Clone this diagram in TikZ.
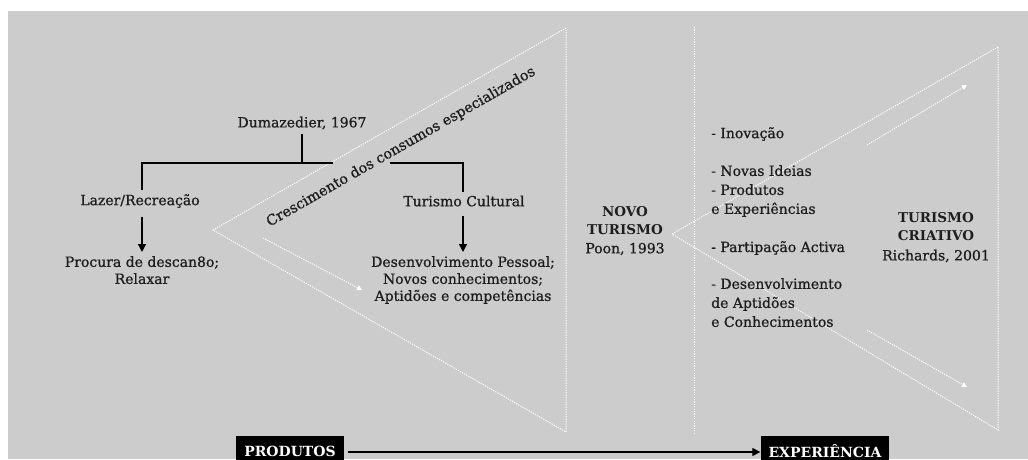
\documentclass[tikz,border=0pt]{standalone}
\usepackage{fontspec}
\setmainfont{DejaVu Serif}
\newfontfamily\semi{DejaVu Serif}[FakeBold=0.9]
\usetikzlibrary{arrows.meta}
\definecolor{panel}{RGB}{204,204,204}
\definecolor{ink}{RGB}{30,30,30}
\tikzset{
  lbl/.style={font=\semi\fontsize{14}{17}\selectfont, text=ink, inner sep=0pt, align=center},
  lbll/.style={lbl, font=\semi\fontsize{14}{19}\selectfont, align=left},
  ttl/.style={lbl, font=\fontsize{13.5}{18}\selectfont\bfseries},
  tree/.style={draw=black, line width=1.4pt},
  drop/.style={tree, -{Triangle[width=8pt,length=8pt]}},
  guide/.style={draw=white, line width=1pt, dash pattern=on 1.2pt off 1.2pt},
  flow/.style={guide, -{Triangle[width=5pt,length=5pt,fill=white]}},
  tag/.style={fill=black, text=white, font=\fontsize{14}{16}\selectfont\bfseries,
    minimum height=30pt, inner xsep=8pt, anchor=north},
}
\begin{document}
\begin{tikzpicture}[x=1pt,y=-1pt]
\useasboundingbox[fill=white] (0,0) rectangle (1028,459);
\fill[panel] (8,11) rectangle (1028,459);

% left triangle: specialised consumption widening
\coordinate (la) at (213,230);
\coordinate (lt) at (566,28);
\coordinate (lb) at (566,432);
\draw[guide] (lt) -- (la) -- (lb) -- cycle;
\coordinate (lfs) at (263,238);
\coordinate (lfe) at (362,290);
\draw[flow] (lfs) -- (lfe);

% separator
\coordinate (st) at (694,27);
\coordinate (sb) at (694,433);
\draw[guide] (st) -- (sb);

% right triangle: creative tourism
\coordinate (ra) at (672,234);
\coordinate (rt) at (998,47);
\coordinate (rb) at (998,430);
\draw[guide] (rt) -- (ra) -- (rb) -- cycle;
\coordinate (rus) at (867,145);
\coordinate (rue) at (967,85);
\coordinate (rls) at (867,330);
\coordinate (rle) at (967,387);
\draw[flow] (rus) -- (rue);
\draw[flow] (rls) -- (rle);

% tree
\node[lbl] (dum) at (302,123) {Dumazedier, 1967};
\node[lbl] (laz) at (140,201) {Lazer/Recreação};
\node[lbl] (tc) at (464,201) {Turismo Cultural};
\coordinate (bm) at (302,163);
\coordinate (bl) at (142,163);
\coordinate (br) at (463,163);
\coordinate (gl) at (333,163);
\coordinate (gr) at (390,163);
\draw[tree] ([yshift=-5pt]dum.south) -- (bm);
\draw[tree] (laz.north -| bl) ++(0,-4) -- (bl) -- (gl);
\draw[tree] (gr) -- (br) -- ++(0,29);
\node[lbl, anchor=north] (proc) at (142,256) {Procura de descan8o;\\Relaxar};
\node[lbl, anchor=north] (dev) at (463,256) {Desenvolvimento Pessoal;\\Novos conhecimentos;\\Aptidões e competências};
\draw[drop] ([yshift=-9pt]laz.south -| bl) -- ([yshift=4pt]proc.north);
\draw[drop] ([yshift=-9pt]tc.south -| br) -- ([yshift=4pt]dev.north);

\node[lbl, font=\semi\fontsize{14.3}{17}\selectfont, rotate=29.8] (cres) at (401,147) {Crescimento dos consumos especializados};

% middle column
\node[ttl] (nt) at (625,221) {NOVO\\TURISMO};
\node[lbl] (poon) at (625,249) {Poon, 1993};

% bullet list
\node[lbll, anchor=west] (b1) at (711,134) {- Inovação};
\node[lbll, anchor=north west] (b2) at (711,165) {- Novas Ideias\\- Produtos\\e Experiências};
\node[lbll, anchor=west] (b3) at (711,248) {- Partipação Activa};
\node[lbll, anchor=north west] (b4) at (711,278) {- Desenvolvimento\\de Aptidões\\e Conhecimentos};

% right column
\node[ttl] (tcr) at (936,227) {TURISMO\\CRIATIVO};
\node[lbl] (rich) at (936,256) {Richards, 2001};

% bottom axis
\node[tag] (prod) at (290,436) {PRODUTOS};
\node[tag] (exp) at (825,436) {EXPERIÊNCIA};
\draw[draw=black, line width=1.2pt, -{Triangle[width=8pt,length=8pt]}]
  ([xshift=4pt]prod.east |- 0,452) -- (exp.west |- 0,452);
\end{tikzpicture}
\end{document}
